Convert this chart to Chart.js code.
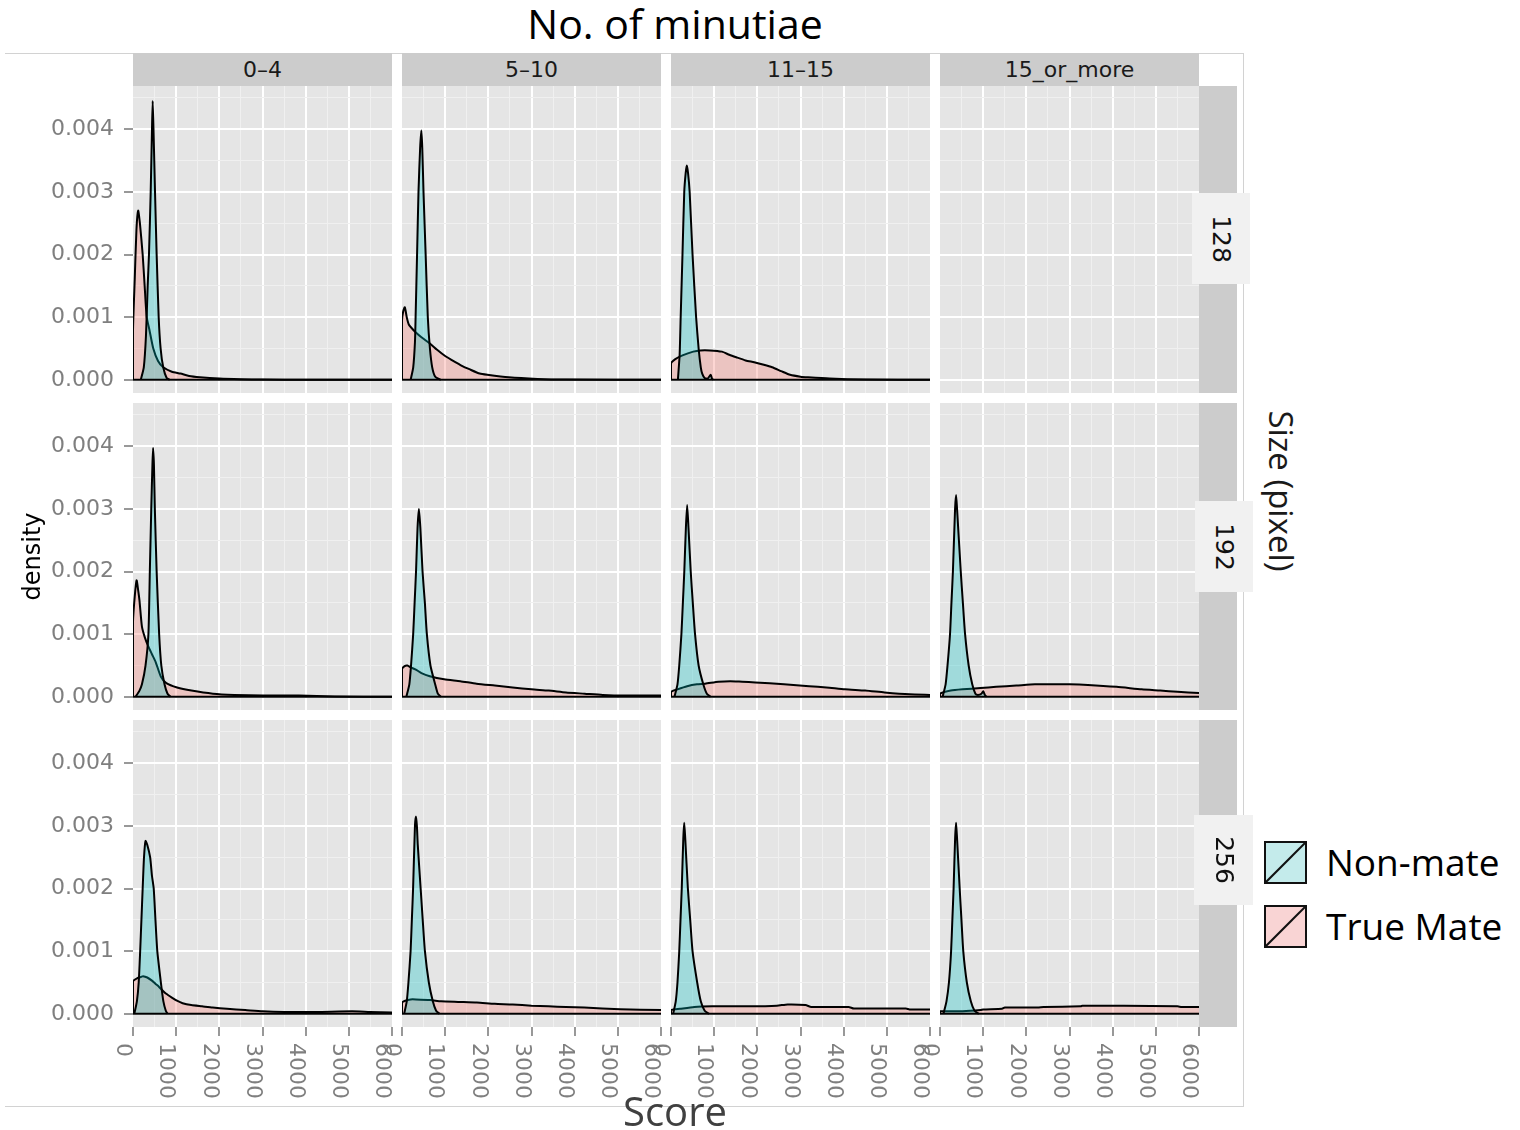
<!DOCTYPE html>
<html><head><meta charset="utf-8">
<script src="https://cdn.jsdelivr.net/npm/chart.js@4/dist/chart.umd.min.js"></script>
<style>
html,body{margin:0;padding:0;background:#fff;}
#wrap{position:relative;width:1520px;height:1130px;overflow:hidden;background:#fff;font-family:"DejaVu Sans",sans-serif;}
#wrap canvas{position:absolute;}
.abs{position:absolute;}
.strip{position:absolute;background:#CCCCCC;color:#1A1A1A;font-size:22px;text-align:center;line-height:33px;}
.rstrip{position:absolute;background:#CCCCCC;}
.rbox{position:absolute;background:#F1F1F1;}
.rlab{position:absolute;font-size:25px;color:#111;text-align:center;transform:rotate(90deg);}
.os{font-family:"Open Sans",sans-serif;}
.line{position:absolute;background:#D2D2D2;}
</style></head><body><div id="wrap"></div>
<script>
// ---------------- data ----------------
const minutiaeGroups = ['0–4', '5–10', '11–15', '15_or_more'];
const sizeGroups = ['128', '192', '256'];
const seriesNames = ['Non-mate', 'True Mate'];
const scoreTicks = [0, 1000, 2000, 3000, 4000, 5000, 6000];
const scoreMinorTicks = [500, 1500, 2500, 3500, 4500, 5500];
const densityTicks = [0, 0.001, 0.002, 0.003, 0.004];
const densityMinorTicks = [0.0005, 0.0015, 0.0025, 0.0035, 0.0045];

// [score, density] pairs
const nonMate_128_0_4 = [[180,0],[250,0.0002],[300,0.0007],[340,0.0015],[370,0.002],[410,0.003],[440,0.004],[456,0.00445],[475,0.004],[510,0.003],[548,0.002],[595,0.001],[640,0.0005],[700,0.0002],[780,0.00003],[850,0]];
const trueMate_128_0_4 = [[0,0],[0,0.0008],[40,0.0016],[80,0.0024],[120,0.0027],[160,0.0025],[224,0.002],[270,0.0015],[317,0.001],[380,0.0008],[470,0.0005],[580,0.0003],[700,0.0002],[900,0.00013],[1100,0.0001],[1300,0.00006],[1550,0.00004],[2000,0.00002],[2500,0.00001],[3000,0.000005],[4000,0.000002],[6000,0]];
const nonMate_128_5_10 = [[200,0],[260,0.0002],[300,0.0006],[315,0.001],[349,0.002],[382,0.003],[420,0.0037],[448,0.00398],[470,0.0037],[498,0.003],[548,0.002],[598,0.001],[647,0.0005],[700,0.0002],[770,0.00005],[900,0]];
const trueMate_128_5_10 = [[0,0],[0,0.00095],[30,0.0011],[66,0.00116],[110,0.001],[160,0.00088],[232,0.00082],[315,0.00076],[450,0.00068],[647,0.00058],[813,0.00048],[1000,0.00038],[1145,0.00032],[1400,0.00022],[1560,0.00017],[1800,0.0001],[1975,0.00008],[2473,0.00004],[3137,0.000015],[3800,0.000005],[6000,0]];
const nonMate_128_11_15 = [[160,0],[200,0.0004],[224,0.001],[266,0.002],[307,0.003],[340,0.0033],[366,0.00342],[395,0.0033],[432,0.003],[499,0.002],[582,0.001],[640,0.0005],[690,0.0002],[723,0.0001],[780,0.00003],[850,0.00002],[920,0.00008],[950,0.00002],[980,0]];
const trueMate_128_11_15 = [[0,0],[0,0.00026],[100,0.00033],[266,0.00039],[515,0.00045],[681,0.00047],[900,0.00047],[1180,0.00045],[1350,0.0004],[1512,0.00036],[1728,0.00031],[1928,0.00028],[2150,0.00024],[2343,0.0002],[2550,0.00014],[2759,0.00008],[3000,0.00005],[3175,0.00004],[3673,0.00002],[4504,0.000005],[6000,0]];
const nonMate_128_15_or_more = [];
const trueMate_128_15_or_more = [];

const nonMate_192_0_4 = [[60,0],[150,0.0001],[207,0.0002],[290,0.0005],[357,0.001],[390,0.002],[423,0.003],[450,0.0037],[465,0.00397],[485,0.0037],[506,0.003],[548,0.002],[606,0.001],[656,0.0005],[730,0.0002],[800,0.00005],[870,0]];
const trueMate_192_0_4 = [[0,0],[0,0.0012],[40,0.0016],[83,0.00186],[120,0.0017],[150,0.00154],[207,0.00112],[274,0.00095],[357,0.0008],[440,0.00068],[523,0.00056],[647,0.00032],[772,0.00022],[1021,0.00015],[1353,0.0001],[1851,0.00005],[2349,0.00003],[3012,0.00002],[3842,0.00002],[4672,0.000005],[6000,0]];
const nonMate_192_5_10 = [[100,0],[170,0.0002],[209,0.0005],[259,0.001],[292,0.0015],[325,0.002],[360,0.0027],[392,0.003],[425,0.0027],[476,0.002],[530,0.0015],[576,0.001],[659,0.0005],[768,0.0002],[830,0.00005],[900,0]];
const trueMate_192_5_10 = [[0,0],[0,0.00044],[60,0.00049],[125,0.0005],[200,0.00047],[309,0.00044],[450,0.00038],[643,0.00033],[977,0.00028],[1350,0.00025],[1728,0.00021],[2150,0.00018],[2563,0.00015],[3000,0.00012],[3397,0.0001],[3800,0.00007],[4232,0.00005],[4649,0.00003],[5200,0.00002],[6000,0.00002]];
const nonMate_192_11_15 = [[80,0],[150,0.0002],[191,0.0005],[241,0.001],[275,0.0015],[308,0.002],[345,0.0027],[374,0.00306],[405,0.0027],[457,0.002],[505,0.0015],[557,0.001],[640,0.0005],[748,0.0002],[830,0.00005],[920,0]];
const trueMate_192_11_15 = [[0,0],[0,0.00008],[150,0.00012],[374,0.00017],[600,0.0002],[790,0.00021],[1100,0.00024],[1372,0.00025],[1650,0.00024],[1953,0.00023],[2618,0.0002],[3200,0.00017],[3600,0.00015],[4032,0.00012],[4500,0.0001],[4946,0.00007],[5528,0.00004],[6000,0.00003]];
const nonMate_192_15_or_more = [[60,0],[130,0.0002],[174,0.0005],[232,0.001],[265,0.0015],[299,0.002],[349,0.003],[373,0.00322],[395,0.003],[481,0.002],[530,0.0015],[581,0.001],[664,0.0005],[747,0.0002],[820,0.00005],[880,0.00003],[960,0.00005],[1000,0.00009],[1040,0.00003],[1080,0]];
const trueMate_192_15_or_more = [[0,0],[0,0.00005],[250,0.0001],[523,0.00012],[938,0.00014],[1300,0.00016],[1768,0.00018],[2200,0.0002],[2598,0.0002],[3000,0.0002],[3427,0.00019],[4091,0.00016],[4672,0.00012],[5100,0.0001],[5502,0.00008],[6000,0.00006]];

const nonMate_256_0_4 = [[30,0],[90,0.0002],[132,0.0005],[166,0.001],[195,0.0015],[224,0.002],[255,0.0025],[290,0.00276],[330,0.0027],[397,0.0025],[440,0.0022],[480,0.002],[520,0.0015],[563,0.001],[646,0.0005],[704,0.0002],[760,0.00005],[800,0]];
const trueMate_256_0_4 = [[0,0],[0,0.00052],[100,0.00057],[190,0.00059],[232,0.0006],[330,0.00058],[439,0.00053],[520,0.00048],[604,0.00043],[690,0.00037],[770,0.00032],[900,0.00026],[1018,0.00021],[1150,0.00017],[1349,0.00014],[1600,0.00012],[1846,0.0001],[2177,0.00008],[2600,0.00006],[3005,0.00004],[3502,0.00003],[4247,0.00003],[5075,0.00004],[5489,0.00003],[6000,0.00002]];
const nonMate_256_5_10 = [[50,0],[110,0.0002],[149,0.0005],[199,0.001],[228,0.0015],[257,0.002],[300,0.003],[324,0.00315],[345,0.003],[365,0.0027],[432,0.002],[480,0.0015],[531,0.001],[622,0.0005],[714,0.0002],[790,0.00005],[870,0]];
const trueMate_256_5_10 = [[0,0],[0,0.00018],[75,0.00021],[200,0.00023],[324,0.00023],[656,0.00022],[905,0.0002],[1300,0.00019],[1734,0.00018],[2150,0.00016],[2564,0.00015],[3000,0.00013],[3394,0.00012],[3800,0.00011],[4224,0.0001],[5054,0.000075],[6000,0.00006]];
const nonMate_256_11_15 = [[50,0],[110,0.0002],[150,0.0005],[191,0.001],[220,0.0015],[249,0.002],[285,0.0028],[307,0.00305],[330,0.0028],[391,0.002],[445,0.0015],[499,0.001],[607,0.0005],[690,0.0002],[780,0.00005],[880,0]];
const trueMate_256_11_15 = [[0,0],[0,0.00006],[208,0.00008],[540,0.00011],[956,0.00012],[1787,0.00012],[2452,0.00013],[2701,0.00015],[3116,0.00014],[3250,0.00011],[4114,0.00011],[4238,0.000085],[5443,0.000085],[5526,0.00007],[6000,0.00007]];
const nonMate_256_15_or_more = [[80,0],[150,0.0002],[207,0.0005],[257,0.001],[286,0.0015],[315,0.002],[350,0.0028],[373,0.00305],[395,0.0028],[456,0.002],[497,0.0015],[539,0.001],[622,0.0005],[714,0.0002],[800,0.00005],[900,0]];
const trueMate_256_15_or_more = [[0,0],[0,0.00004],[523,0.00004],[938,0.00006],[1000,0.00007],[1436,0.00008],[1500,0.0001],[2265,0.0001],[2400,0.00011],[3260,0.00012],[3300,0.00013],[4257,0.00013],[5502,0.00012],[5600,0.00011],[6000,0.00011]];

// table built from the arrays above
const panelTable = {
  '128': [[nonMate_128_0_4, trueMate_128_0_4],[nonMate_128_5_10, trueMate_128_5_10],[nonMate_128_11_15, trueMate_128_11_15],[nonMate_128_15_or_more, trueMate_128_15_or_more]],
  '192': [[nonMate_192_0_4, trueMate_192_0_4],[nonMate_192_5_10, trueMate_192_5_10],[nonMate_192_11_15, trueMate_192_11_15],[nonMate_192_15_or_more, trueMate_192_15_or_more]],
  '256': [[nonMate_256_0_4, trueMate_256_0_4],[nonMate_256_5_10, trueMate_256_5_10],[nonMate_256_11_15, trueMate_256_11_15],[nonMate_256_15_or_more, trueMate_256_15_or_more]]
};

// ---------------- layout / style ----------------
const wrap = document.getElementById('wrap');
const colLefts = [133, 402, 671, 940], rowTops = [86, 403, 720];
const PW = 259, PH = 307, Y_AXIS_W = 133, X_AXIS_H = 100, PAD_L = 24, PAD_R = 3;
const fillColors = ['rgba(0,191,196,0.3)', 'rgba(248,118,109,0.3)'];
const LINE_W = 2;
const yMin = -0.00021, yMax = 0.00469;
const allDensityTicks = densityTicks.concat(densityMinorTicks).sort((a,b)=>a-b);
const allScoreTicks = scoreTicks.concat(scoreMinorTicks).sort((a,b)=>a-b);
const isMajorY = v => densityTicks.indexOf(v) >= 0;
const isMajorX = v => scoreTicks.indexOf(v) >= 0;

const panelBg = {
  id: 'panelBg',
  beforeDraw(chart) {
    const a = chart.chartArea, ctx = chart.ctx;
    ctx.save(); ctx.fillStyle = '#E5E5E5';
    ctx.fillRect(a.left, a.top, a.right - a.left, a.bottom - a.top);
    ctx.restore();
  }
};
const scoreLabels = {
  id: 'scoreLabels',
  afterDraw(chart, args, opts) {
    if (!opts.show) return;
    const s = chart.scales.x, ctx = chart.ctx;
    ctx.save();
    ctx.font = '22px "DejaVu Sans"';
    ctx.fillStyle = '#7F7F7F';
    ctx.textAlign = 'left'; ctx.textBaseline = 'top';
    scoreTicks.forEach(v => {
      const px = s.getPixelForValue(v);
      ctx.save();
      ctx.translate(px + 1, chart.chartArea.bottom + 16);
      ctx.rotate(Math.PI / 2);
      ctx.fillText(String(v), 0, 0);
      ctx.restore();
    });
    ctx.restore();
  }
};

sizeGroups.forEach((size, r) => {
  minutiaeGroups.forEach((grp, c) => {
    const isLeft = c === 0, isBottom = r === 2;
    const padL = (!isLeft && isBottom) ? PAD_L : 0;
    const padR = isBottom ? PAD_R : 0;
    const yW = isLeft ? Y_AXIS_W : 0;
    const xH = isBottom ? X_AXIS_H : 0;
    const w = PW + yW + padL + padR, h = PH + xH;
    const cv = document.createElement('canvas');
    cv.width = w; cv.height = h;
    cv.style.left = (colLefts[c] - yW - padL) + 'px';
    cv.style.top = rowTops[r] + 'px';
    cv.style.width = w + 'px'; cv.style.height = h + 'px';
    wrap.appendChild(cv);

    const [nm, tm] = panelTable[size][c];
    const datasets = [];
    const toXY = arr => arr.map(p => ({x: p[0], y: p[1]}));
    if (nm.length || tm.length) {
      const xs = nm.concat(tm).map(p => p[0]);
      datasets.push({label: 'base', data: [{x: Math.min(...xs), y: 0}, {x: Math.max(...xs), y: 0}],
        borderColor: '#000', borderWidth: LINE_W, pointRadius: 0, fill: false});
      datasets.push({label: seriesNames[0], data: toXY(nm), borderColor: '#000', borderWidth: LINE_W,
        backgroundColor: fillColors[0], fill: 'origin', pointRadius: 0, tension: 0.2});
      datasets.push({label: seriesNames[1], data: toXY(tm), borderColor: '#000', borderWidth: LINE_W,
        backgroundColor: fillColors[1], fill: 'origin', pointRadius: 0, tension: 0.2});
    }

    new Chart(cv, {
      type: 'line',
      data: {datasets},
      plugins: [panelBg, scoreLabels],
      options: {
        responsive: false, maintainAspectRatio: false, animation: false, events: [],
        layout: {padding: {left: padL, right: padR, top: 0, bottom: 0}},
        plugins: {legend: {display: false}, tooltip: {enabled: false}, scoreLabels: {show: isBottom}},
        scales: {
          x: {
            type: 'linear', min: 0, max: 6000,
            afterBuildTicks: s => { s.ticks = allScoreTicks.map(v => ({value: v})); },
            afterFit: s => { s.height = xH; s.paddingLeft = 0; s.paddingRight = 0; },
            ticks: {display: false},
            border: {display: false},
            grid: {
              drawTicks: isBottom, tickLength: 9, tickWidth: 1.6,
              color: ctx => (ctx.tick && (ctx.tick.value === 0 || ctx.tick.value === 6000)) ? 'rgba(0,0,0,0)' : (ctx.tick && isMajorX(ctx.tick.value) ? '#FFFFFF' : '#F0F0F0'),
              lineWidth: ctx => (ctx.tick && isMajorX(ctx.tick.value)) ? 2 : 1,
              tickColor: ctx => (ctx.tick && isMajorX(ctx.tick.value)) ? '#7F7F7F' : 'rgba(0,0,0,0)'
            }
          },
          y: {
            type: 'linear', min: yMin, max: yMax,
            afterBuildTicks: s => { s.ticks = allDensityTicks.map(v => ({value: v})); },
            afterFit: s => { s.width = yW; s.paddingTop = 0; s.paddingBottom = 0; },
            ticks: {display: isLeft, autoSkip: false, padding: 10, color: '#7F7F7F',
              font: {family: 'DejaVu Sans', size: 22},
              callback: v => isMajorY(v) ? v.toFixed(3) : ''},
            title: {display: isLeft && r === 1, text: 'density', color: '#000',
              font: {family: 'DejaVu Sans', size: 24}, padding: {top: 19, bottom: 0}},
            border: {display: false},
            grid: {
              drawTicks: isLeft, tickLength: 9, tickWidth: 1.6,
              color: ctx => (ctx.tick && isMajorY(ctx.tick.value)) ? '#FFFFFF' : '#F0F0F0',
              lineWidth: ctx => (ctx.tick && isMajorY(ctx.tick.value)) ? 2 : 1,
              tickColor: ctx => (ctx.tick && isMajorY(ctx.tick.value)) ? '#7F7F7F' : 'rgba(0,0,0,0)'
            }
          }
        }
      }
    });
  });
});

// ---------------- decorations (text & strips) ----------------
function el(cls, style, html) {
  const d = document.createElement('div');
  d.className = cls; Object.assign(d.style, style); if (html !== undefined) d.innerHTML = html;
  wrap.appendChild(d); return d;
}
// frame of embedded figure
el('line', {left: '5px', top: '53px', width: '1238px', height: '1px'});
el('line', {left: '1243px', top: '53px', width: '1px', height: '1053px'});
el('line', {left: '5px', top: '1106px', width: '1239px', height: '1px'});

minutiaeGroups.forEach((g, c) => {
  el('strip', {left: colLefts[c] + 'px', top: '53px', width: PW + 'px', height: '33px'}).textContent = g;
});
const boxes = [[1192, 193, 58, 91], [1195, 501, 58, 91], [1194, 815, 59, 90]];
sizeGroups.forEach((s, r) => {
  el('rstrip', {left: '1199px', top: rowTops[r] + 'px', width: '38px', height: PH + 'px'});
  const b = boxes[r];
  el('rbox', {left: b[0] + 'px', top: b[1] + 'px', width: b[2] + 'px', height: b[3] + 'px'});
  const cx = b[0] + b[2] / 2, cy = b[1] + b[3] / 2;
  el('rlab', {left: (cx - 40) + 'px', top: (cy - 15) + 'px', width: '80px', height: '30px', lineHeight: '30px'}).textContent = s;
});

el('abs os', {left: '425px', top: '3px', width: '500px', textAlign: 'center', fontSize: '41px', lineHeight: '41px', color: '#000'}).textContent = 'No. of minutiae';
el('abs os', {left: '475px', top: '1091px', width: '400px', textAlign: 'center', fontSize: '40px', lineHeight: '40px', color: '#404040'}).textContent = 'Score';
el('abs os', {left: '1131px', top: '471px', width: '300px', height: '40px', textAlign: 'center', fontSize: '33px', lineHeight: '40px', color: '#1A1A1A', transform: 'rotate(90deg)'}).textContent = 'Size (pixel)';

// legend
const legendFills = ['#C4EBEB', '#F9D4D4'];
const legendTops = [841, 905];
seriesNames.forEach((n, i) => {
  el('abs', {left: '1264px', top: legendTops[i] + 'px', width: '43px', height: '43px'},
    '<svg width="43" height="43"><rect x="1" y="1" width="41" height="41" fill="' + legendFills[i] + '" stroke="#111" stroke-width="2"/><line x1="1" y1="42" x2="42" y2="1" stroke="#111" stroke-width="2"/></svg>');
  el('abs os', {left: '1326px', top: (legendTops[i] + 21 - 23) + 'px', height: '46px', lineHeight: '46px', fontSize: '37px', color: '#000', whiteSpace: 'nowrap'}).textContent = n;
});
</script></body></html>
